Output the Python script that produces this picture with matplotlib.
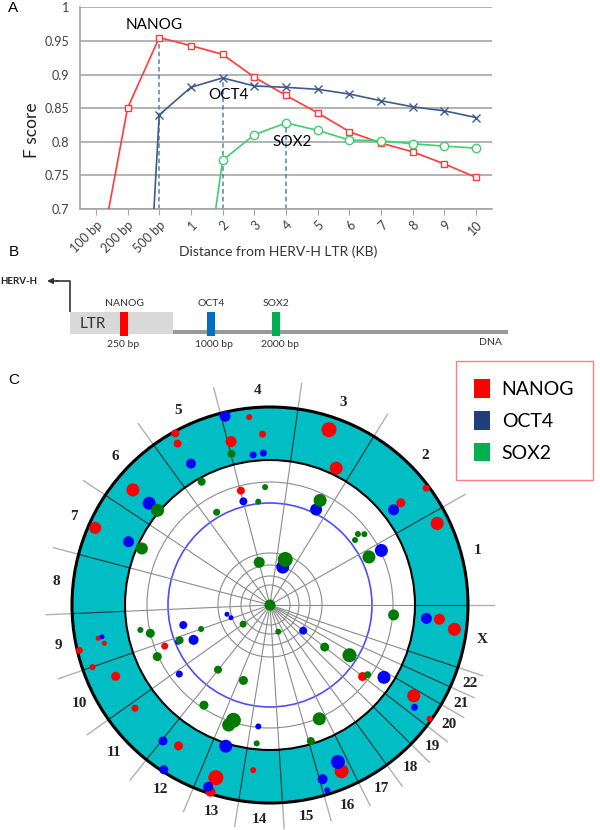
import matplotlib
matplotlib.use('Agg')
import matplotlib.pyplot as plt
import numpy as np
from matplotlib.patches import Rectangle, Wedge, Circle, Patch

plt.rcParams['font.family'] = ['Lato', 'DejaVu Sans']

# Panel A: F score against distance from the HERV-H LTR
distances = ['100 bp', '200 bp', '500 bp', '1', '2', '3', '4', '5',
             '6', '7', '8', '9', '10']
nanog_f = [0.597, 0.85, 0.955, 0.943, 0.93, 0.896, 0.869, 0.843,
           0.815, 0.798, 0.785, 0.767, 0.747]
oct4_f = [0.0, 0.0, 0.84, 0.881, 0.895, 0.883, 0.881, 0.878,
          0.871, 0.861, 0.852, 0.846, 0.836]
sox2_f = [0.0, 0.0, 0.0, 0.44, 0.7725, 0.8105, 0.828, 0.817,
          0.8025, 0.8015, 0.797, 0.7935, 0.7905]

# Panel B: motif sites in the schematic
site_names = ['NANOG', 'OCT4', 'SOX2']
site_bp = ['250 bp', '1000 bp', '2000 bp']

# Panel C: chromosome sizes (Mb) and binding sites (angle deg, radius, size)
chrom_names = ['1', '2', '3', '4', '5', '6', '7', '8', '9', '10', '11', '12',
               '13', '14', '15', '16', '17', '18', '19', '20', '21', '22', 'X']
chrom_mb = [249, 243, 198, 191, 181, 171, 159, 146, 141, 136, 135, 134,
            115, 107, 103, 90, 81, 78, 59, 63, 48, 51, 155]

nanog_ang = [96.3, 92.5, 103.4, 118.9, 119.8, 71.4, 64.2, 36.8, 38.0, 26.0,
             140.0, 156.2, 104.3, 355.2, 352.5, 327.7, 324.5, 322.3, 293.3,
             264.2, 252.6, 252.3, 237.0, 217.4, 204.8, 199.3, 193.4, 191.0,
             193.0, 201.3]
nanog_rad = [189, 171, 168, 196, 186, 185, 152, 195, 166, 186,
             179, 191, 118, 170, 186, 170, 196, 117, 181,
             166, 181, 196, 168, 170, 170, 188, 196, 175,
             170, 113]
nanog_size = [6, 7, 11, 8, 8, 15, 13, 7, 9, 13,
              13, 12, 8, 11, 13, 13, 6, 9, 14,
              6, 15, 10, 9, 7, 9, 6, 7, 5,
              5, 7]

oct4_ang = [103.4, 96.4, 92.5, 119.2, 37.6, 139.9, 155.9, 104.4, 64.2, 26.1,
            71.4, 355.1, 324.7, 327.6, 293.4, 286.8, 287.2, 252.6, 251.2,
            231.8, 237.2, 190.7, 322.3, 192.1, 198.0, 193.0, 204.5, 201.8,
            217.3, 264.5]
oct4_rad = [194, 151, 152, 162, 156, 158, 155, 107, 106, 124,
            40, 157, 177, 135, 171, 182, 194, 148, 192,
            173, 196, 171, 42, 44, 41, 89, 84, 99,
            114, 122]
oct4_size = [11, 7, 7, 10, 11, 13, 11, 8, 12, 13,
             13, 11, 7, 13, 14, 10, 6, 13, 10,
             9, 9, 5, 8, 5, 5, 8, 10, 6,
             7, 6]

sox2_ang = [104.3, 139.9, 156.2, 119.0, 92.4, 96.5, 119.9, 64.4, 38.9, 36.9,
            37.4, 25.9, 104.2, 71.5, 355.4, 287.3, 215.4, 322.4, 327.7, 199.2,
            201.3, 190.9, 193.3, 204.6, 231.2, 250.6, 236.6, 252.4, 251.0,
            264.5, 293.4, 286.7, 324.5, 0.0]
sox2_rad = [156, 147, 140, 141, 118, 104, 107, 116, 113, 118,
            107, 110, 44, 48, 124, 28, 33, 69, 94, 73,
            97, 132, 123, 124, 83, 80, 120, 121, 127,
            139, 124, 142, 120, 0]
sox2_size = [8, 13, 12, 8, 6, 6, 7, 13, 6, 6,
             6, 13, 11, 15, 11, 6, 7, 9, 14, 6,
             8, 6, 9, 9, 8, 9, 9, 15, 13,
             6, 13, 8, 7, 11]

fig = plt.figure(figsize=(6, 8.3), dpi=100)

# overlay in pixel units for panel B and the panel letters
ax_o = fig.add_axes([0, 0, 1, 1])
ax_o.set_xlim(0, 600)
ax_o.set_ylim(830, 0)
ax_o.axis('off')

# ---- Panel A ----
ax = fig.add_axes([80 / 600, 1 - 209 / 830, 412 / 600, 201.7 / 830])
x = np.arange(len(distances))
red, navy, green = '#ff3b3b', '#3d5b8c', '#3fcf6b'
ax.plot(x, nanog_f, color=red, lw=1.2, marker='s', ms=5,
        mfc='white', mec=red, mew=1.0, zorder=3)
ax.plot(x, oct4_f, color=navy, lw=1.2, marker='x', ms=6,
        mec=navy, mew=1.0, zorder=3)
ax.plot(x, sox2_f, color=green, lw=1.2, marker='o', ms=6,
        mfc='white', mec=green, mew=1.0, zorder=3)

for series in (nanog_f, oct4_f, sox2_f):
    i = int(np.argmax(series))
    ax.vlines(x[i], 0.7, series[i], colors='#4f81bd', lw=1.1,
              linestyles=(0, (3, 2)), zorder=2)

ax.text(1.84, 0.974, 'NANOG', ha='center', va='center', fontsize=11)
ax.text(4.17, 0.8696, 'OCT4', ha='center', va='center', fontsize=11)
ax.text(6.19, 0.800, 'SOX2', ha='center', va='center', fontsize=11)

ax.set_xlim(-0.5, len(distances) - 0.5)
ax.set_ylim(0.7, 1.0)
yt = np.arange(0.7, 1.001, 0.05)
ax.set_yticks(yt)
ax.set_yticklabels([f'{v:g}' for v in np.round(yt, 2)])
ax.set_xticks(x)
ax.set_xticklabels(distances, rotation=45, ha='right', rotation_mode='anchor')
ax.yaxis.grid(True, color='#a6a6a6', lw=1.2)
ax.set_axisbelow(True)
for s in ('top', 'right'):
    ax.spines[s].set_visible(False)
for s in ('left', 'bottom'):
    ax.spines[s].set_color('#a6a6a6')
    ax.spines[s].set_linewidth(1.2)
ax.tick_params(axis='y', length=0, labelsize=9, labelcolor='#404040', pad=8)
ax.tick_params(axis='x', length=4, color='#a6a6a6', labelsize=9,
               labelcolor='#404040', pad=3)

ax_o.text(278, 252, 'Distance from HERV-H LTR (KB)', ha='center',
          va='center', fontsize=10, color='#333333')
ax_o.text(32, 130, 'F score', ha='center', va='center', rotation=90,
          fontsize=12.5, color='#222222')

# ---- Panel letters ----
for lab, px, py in (('A', 8, 8), ('B', 9, 252), ('C', 8, 380)):
    ax_o.text(px, py, lab, fontsize=11, ha='left', va='center',
              family=['Liberation Sans', 'DejaVu Sans'])

# ---- Panel B ----
ax_o.text(0, 281, 'HERV-H', fontsize=7, fontweight='bold', ha='left',
          va='center', color='#222222')
ax_o.plot([70, 70, 56], [312, 281, 281], color='#333333', lw=1.2,
          solid_capstyle='butt')
ax_o.annotate('', xy=(47, 281), xytext=(58, 281),
              arrowprops=dict(arrowstyle='-|>', color='#333333', lw=1.2,
                              mutation_scale=8, shrinkA=0, shrinkB=0))
ax_o.add_patch(Rectangle((70, 312), 103, 22, fc='#d9d9d9', ec='none'))
ax_o.add_patch(Rectangle((173, 330), 335, 4, fc='#999999', ec='none'))
ax_o.text(80, 324, 'LTR', fontsize=11, ha='left', va='center', color='#333333')
site_x = [124, 211, 276]
site_col = ['#ff0000', '#0070c0', '#00b050']
bp_x = [123, 214, 280]
for name, bp, sx, bx, c in zip(site_names, site_bp, site_x, bp_x, site_col):
    ax_o.add_patch(Rectangle((sx - 4, 312), 8, 24, fc=c, ec='none'))
    ax_o.text(sx, 303, name, fontsize=7.5, ha='center', va='center',
              color='#333333')
    ax_o.text(bx, 344, bp, fontsize=7.5, ha='center', va='center',
              color='#333333')
ax_o.text(490, 342, 'DNA', fontsize=7.5, ha='center', va='center',
          color='#333333')

# ---- Panel C ----
ax_c = fig.add_axes([40 / 600, 0, 460 / 600, 450 / 830])
ax_c.set_xlim(-230, 230)
ax_c.set_ylim(-225, 225)
ax_c.axis('off')

r_out, r_in, r_blue = 198, 145, 102
ax_c.add_patch(Wedge((0, 0), r_out, 0, 360, width=r_out - r_in,
                     fc='#00bec4', ec='none', zorder=1))
for r in (20, 29, 40, 52, 123):
    ax_c.add_patch(Circle((0, 0), r, fill=False, ec='#8c8c8c', lw=0.8,
                          zorder=2))
ax_c.add_patch(Circle((0, 0), r_blue, fill=False, ec='#4d4dff', lw=1.2,
                      zorder=2))

bounds = np.concatenate([[0], np.cumsum(chrom_mb)]) / sum(chrom_mb) * 360
for b in bounds[:-1]:
    t = np.radians(b)
    c, s = np.cos(t), np.sin(t)
    ax_c.plot([0, r_in * c], [0, r_in * s], color='#8c8c8c', lw=0.8, zorder=2)
    ax_c.plot([r_in * c, r_out * c], [r_in * s, r_out * s], color='#333333',
              lw=0.8, zorder=2)
    ax_c.plot([r_out * c, 224 * c], [r_out * s, 224 * s], color='#b0b0b0',
              lw=1.0, zorder=2)
ax_c.add_patch(Circle((0, 0), r_in, fill=False, ec='black', lw=1.5, zorder=3))
ax_c.add_patch(Circle((0, 0), r_out, fill=False, ec='black', lw=2.2, zorder=3))

mids = (bounds[:-1] + bounds[1:]) / 2
for name, m in zip(chrom_names, mids):
    t = np.radians(m)
    ax_c.text(215 * np.cos(t), 215 * np.sin(t), name, ha='center',
              va='center', fontsize=11, fontweight='bold',
              family=['Liberation Serif', 'DejaVu Serif'], color='#222222')

for ang, rad, size, col in ((nanog_ang, nanog_rad, nanog_size, '#ff0000'),
                            (oct4_ang, oct4_rad, oct4_size, '#0000ff'),
                            (sox2_ang, sox2_rad, sox2_size, '#007a00')):
    t = np.radians(ang)
    rr = np.asarray(rad, dtype=float)
    ax_c.scatter(rr * np.cos(t), rr * np.sin(t),
                 s=(0.72 * np.asarray(size)) ** 2, c=col, lw=0, zorder=4)

handles = [Patch(fc='#ff0000', label='NANOG'),
           Patch(fc='#1f3f7a', label='OCT4'),
           Patch(fc='#00b050', label='SOX2')]
leg = fig.legend(handles=handles, loc='upper left',
                 bbox_to_anchor=(456 / 600, 1 - 361 / 830), fontsize=14,
                 handlelength=0.8, handleheight=1.1, labelspacing=0.65,
                 borderpad=0.95, handletextpad=0.6, borderaxespad=0,
                 fancybox=False, edgecolor='#ff8080', framealpha=1)
leg.get_frame().set_linewidth(1.0)

fig.savefig('out.png', dpi=100)
